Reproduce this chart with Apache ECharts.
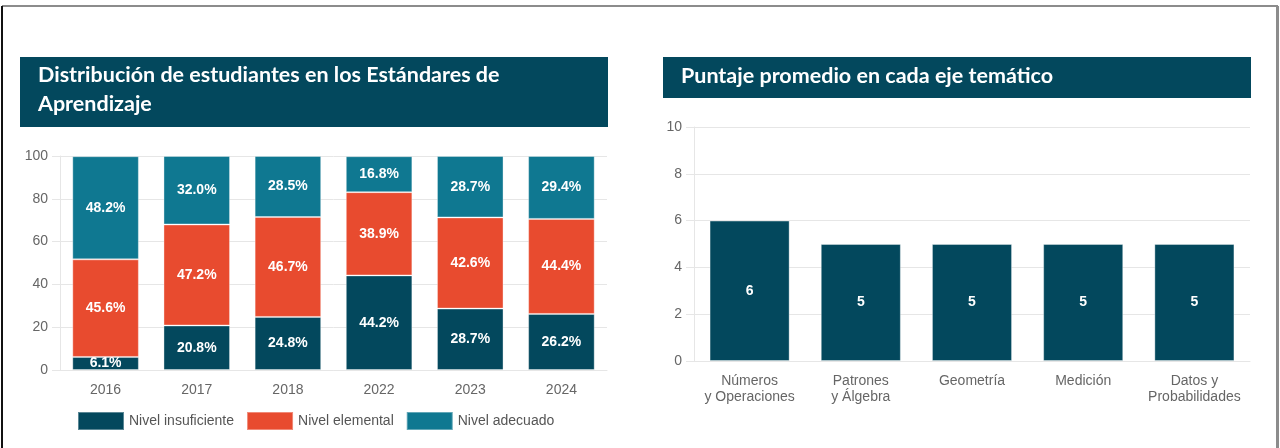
<!DOCTYPE html>
<html>
<head>
<meta charset="utf-8">
<script src="https://cdn.jsdelivr.net/npm/echarts@6/dist/echarts.min.js"></script>
<style>
html,body{margin:0;padding:0;background:#fff;}
#c{width:1280px;height:448px;}
</style>
</head>
<body>
<div id="c"></div>
<script>
const years = ['2016', '2017', '2018', '2022', '2023', '2024'];
const insuficiente = [6.1, 20.8, 24.8, 44.2, 28.7, 26.2];
const elemental = [45.6, 47.2, 46.7, 38.9, 42.6, 44.4];
const adecuado = [48.2, 32.0, 28.5, 16.8, 28.7, 29.4];
const leftTicks = [0, 20, 40, 60, 80, 100];

const ejes = ['Números\ny Operaciones', 'Patrones\ny Álgebra', 'Geometría', 'Medición', 'Datos y\nProbabilidades'];
const puntajes = [6, 5, 5, 5, 5];
const rightTicks = [0, 2, 4, 6, 8, 10];

const titleLeft = 'Distribución de estudiantes en los Estándares de\nAprendizaje';
const titleRight = 'Puntaje promedio en cada eje temático';

const C_DARK = '#03485d';
const C_RED = '#e84b2f';
const C_TEAL = '#0f7891';
const AX = '#e6e6e6';
const LBL = '#666666';
const TITLE_FONT = 'Lato, "Open Sans", sans-serif';
const NUM_FONT = '"Liberation Sans", Arial, sans-serif';
const AX_FONT = '"Liberation Sans", Arial, sans-serif';

const chart = echarts.init(document.getElementById('c'), null, {renderer: 'canvas'});

function valueAxis(gi, ticks) {
  return {
    type: 'value', gridIndex: gi,
    min: ticks[0], max: ticks[ticks.length - 1], interval: ticks[1] - ticks[0],
    axisLine: {show: true, lineStyle: {color: AX}},
    axisTick: {show: true, length: 8, lineStyle: {color: AX}},
    splitLine: {show: true, lineStyle: {color: AX}},
    axisLabel: {color: LBL, fontSize: 14, fontFamily: AX_FONT, margin: 12}
  };
}
function catAxis(gi, cats) {
  return {
    type: 'category', gridIndex: gi, data: cats,
    axisLine: {show: true, lineStyle: {color: AX}},
    axisTick: {show: false},
    axisLabel: {color: LBL, fontSize: 14, fontFamily: AX_FONT, margin: 12, lineHeight: 16, interval: 0}
  };
}
const pctLabel = {
  show: true, position: 'inside', color: '#fff', fontWeight: 'bold',
  fontSize: 14, fontFamily: NUM_FONT,
  formatter: p => p.value.toFixed(1) + '%'
};

chart.setOption({
  animation: false,
  backgroundColor: '#fff',
  graphic: [
    {type: 'rect', shape: {x: 2, y: 5, width: 1276, height: 2}, style: {fill: '#8c8c8c'}},
    {type: 'rect', shape: {x: 1, y: 6, width: 2, height: 442}, style: {fill: '#111'}},
    {type: 'rect', shape: {x: 1276, y: 6, width: 3, height: 442}, style: {fill: '#8c8c8c'}},
    {type: 'rect', shape: {x: 20, y: 57, width: 588, height: 70}, style: {fill: C_DARK}},
    {type: 'text', x: 38, y: 61, style: {text: titleLeft, fill: '#fff', font: 'bold 21.5px ' + TITLE_FONT, lineHeight: 29}},
    {type: 'rect', shape: {x: 663, y: 57, width: 588, height: 41}, style: {fill: C_DARK}},
    {type: 'text', x: 681, y: 62, style: {text: titleRight, fill: '#fff', font: 'bold 21.5px ' + TITLE_FONT, lineHeight: 29}}
  ],
  legend: {
    left: 72, top: 406, itemWidth: 46, itemHeight: 18, itemGap: 12,
    icon: 'rect',
    textStyle: {color: '#555', fontSize: 14, fontFamily: AX_FONT},
    data: ['Nivel insuficiente', 'Nivel elemental', 'Nivel adecuado']
  },
  grid: [
    {left: 60, top: 156, width: 547, height: 214},
    {left: 694, top: 127, width: 556, height: 234}
  ],
  xAxis: [catAxis(0, years), catAxis(1, ejes)],
  yAxis: [valueAxis(0, leftTicks), valueAxis(1, rightTicks)],
  series: [
    {name: 'Nivel insuficiente', type: 'bar', stack: 'a', xAxisIndex: 0, yAxisIndex: 0, barWidth: '73%',
     data: insuficiente, itemStyle: {color: C_DARK, borderColor: 'rgba(255,255,255,0.35)', borderWidth: 1}, label: pctLabel},
    {name: 'Nivel elemental', type: 'bar', stack: 'a', xAxisIndex: 0, yAxisIndex: 0, barWidth: '73%',
     data: elemental, itemStyle: {color: C_RED, borderColor: 'rgba(255,255,255,0.35)', borderWidth: 1}, label: pctLabel},
    {name: 'Nivel adecuado', type: 'bar', stack: 'a', xAxisIndex: 0, yAxisIndex: 0, barWidth: '73%',
     data: adecuado, itemStyle: {color: C_TEAL, borderColor: 'rgba(255,255,255,0.35)', borderWidth: 1}, label: pctLabel},
    {name: 'Puntaje', type: 'bar', xAxisIndex: 1, yAxisIndex: 1, barWidth: '72%',
     data: puntajes, itemStyle: {color: C_DARK, borderColor: 'rgba(255,255,255,0.35)', borderWidth: 1},
     label: {show: true, position: 'inside', color: '#fff', fontWeight: 'bold', fontSize: 14, fontFamily: NUM_FONT}}
  ]
});
</script>
</body>
</html>
